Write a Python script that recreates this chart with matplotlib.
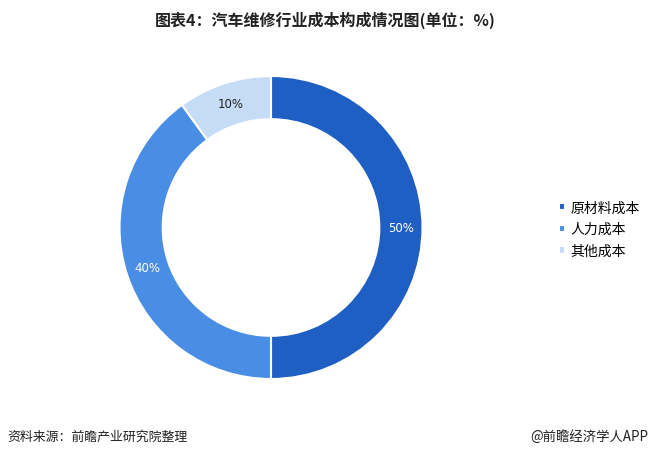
import matplotlib.pyplot as plt
import numpy as np

plt.rcParams['font.family'] = ['Noto Sans CJK SC', 'DejaVu Sans']

# data
categories = ['原材料成本', '人力成本', '其他成本']
shares = [50, 40, 10]
colors = ['#1f5fc4', '#4a8de4', '#c6dcf6']
label_colors = ['white', 'white', '#222222']

fig = plt.figure(figsize=(6.5, 4.56), dpi=100)
cx, cy = 271 / 650, 1 - 228.5 / 456
w, h = 303 / 650, 303 / 456
ax = fig.add_axes([cx - w / 2, cy - h / 2, w, h])

ring = 0.285
wedges, texts = ax.pie(shares, colors=colors, startangle=90, counterclock=False,
                       radius=1.0, wedgeprops=dict(width=ring, edgecolor='white', linewidth=1.5))
ax.set_aspect('equal')
ax.set_xlim(-1, 1)
ax.set_ylim(-1, 1)

# percent labels in the middle of the ring
for wd, s, c in zip(wedges, shares, label_colors):
    mid = np.deg2rad((wd.theta1 + wd.theta2) / 2)
    r = 1 - ring / 2
    ax.text(r * np.cos(mid), r * np.sin(mid), f'{s}%', ha='center', va='center',
            fontsize=8.5, color=c, family=['DejaVu Sans'])

leg = fig.legend(wedges, categories, loc='center left', bbox_to_anchor=(0.84, 0.495),
                 frameon=False, fontsize=10, handlelength=0.45, handleheight=0.45,
                 handletextpad=0.4, labelspacing=0.55)

fig.text(0.5, 0.955, '图表4：汽车维修行业成本构成情况图(单位：%)', ha='center', va='center',
         fontsize=11.5, fontweight='bold', color='#222222')
fig.text(0.011, 0.042, '资料来源：前瞻产业研究院整理', ha='left', va='center',
         fontsize=9.3, color='#222222')
fig.text(0.997, 0.042, '@前瞻经济学人APP', ha='right', va='center',
         fontsize=9.6, color='#222222')

fig.savefig('out.png', dpi=100)
